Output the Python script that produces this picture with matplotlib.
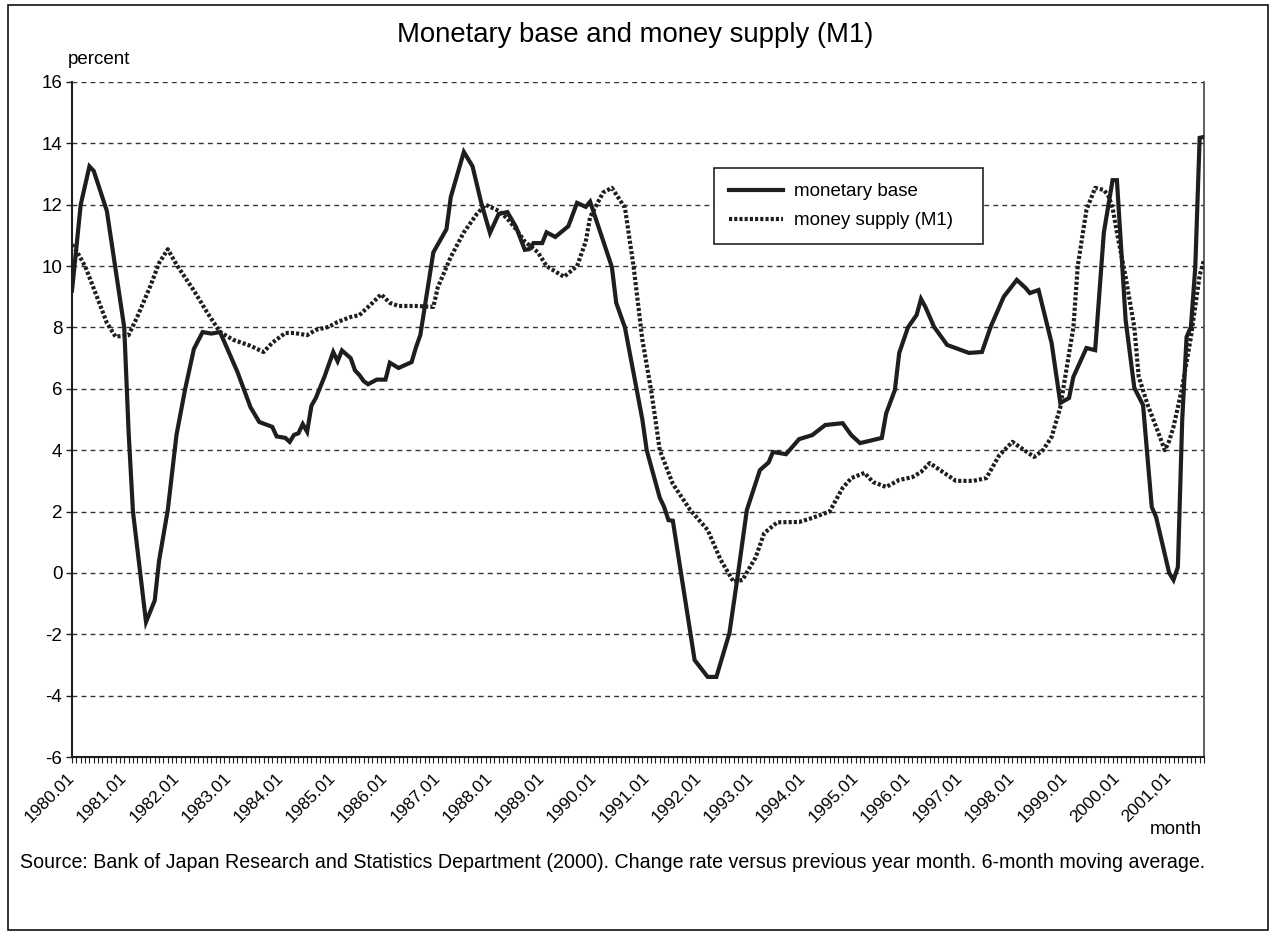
import matplotlib
matplotlib.use('Agg')
import matplotlib.pyplot as plt
from matplotlib.patches import Rectangle
import numpy as np

plt.rcParams['font.family'] = ['Liberation Sans', 'DejaVu Sans']

# months counted from 1980.01 (0)
base_month = [0, 2, 4, 5, 8, 12, 13, 14, 17, 19, 20, 22, 24, 26, 28, 30, 32, 34,
              38, 41, 43, 46, 47, 49, 50, 51, 52, 53, 54, 55, 56, 58, 60, 61, 62,
              64, 65, 66, 67, 68, 70, 72, 73, 75, 78, 79, 80, 83, 86, 87, 90, 92,
              94, 96, 98, 100, 102, 104, 105, 106, 108, 109, 111, 114, 116, 118,
              119, 124, 125, 127, 131, 132, 135, 136, 137, 138, 143, 146, 148,
              151, 153, 155, 158, 160, 161, 164, 167, 170, 173, 177, 179, 181,
              186, 187, 189, 190, 192, 194, 195, 196, 198, 201, 206, 209, 211,
              214, 217, 219, 220, 222, 225, 227, 229, 230, 233, 235, 237, 239,
              240, 242, 244, 246, 248, 249, 252, 253, 254, 255, 256, 257, 258,
              259, 260]
base_value = [9.2, 12.0, 13.25, 13.1, 11.8, 8.0, 4.6, 2.0, -1.6, -0.9, 0.4, 2.05,
              4.5, 6.0, 7.3, 7.85, 7.8, 7.85, 6.55, 5.4, 4.92, 4.76, 4.45, 4.4,
              4.27, 4.5, 4.55, 4.85, 4.6, 5.45, 5.7, 6.4, 7.2, 6.9, 7.25, 7.0,
              6.6, 6.45, 6.25, 6.15, 6.3, 6.3, 6.85, 6.68, 6.87, 7.35, 7.75,
              10.45, 11.2, 12.25, 13.72, 13.25, 12.06, 11.08, 11.7, 11.76, 11.27,
              10.53, 10.55, 10.75, 10.75, 11.1, 10.95, 11.3, 12.06, 11.93, 12.1,
              9.97, 8.8, 8.0, 5.0, 4.0, 2.45, 2.15, 1.72, 1.7, -2.84, -3.39,
              -3.39, -1.96, 0.0, 2.05, 3.35, 3.6, 3.94, 3.87, 4.36, 4.49, 4.82,
              4.88, 4.49, 4.23, 4.4, 5.2, 5.96, 7.17, 8.0, 8.41, 8.93, 8.67,
              8.02, 7.43, 7.17, 7.2, 8.02, 9.0, 9.55, 9.29, 9.12, 9.22, 7.49,
              5.54, 5.7, 6.39, 7.33, 7.26, 11.1, 12.8, 12.8, 8.24, 6.03, 5.47,
              2.15, 1.82, 0.0, -0.23, 0.19, 5.0, 7.69, 8.02, 9.97, 14.18, 14.21]

m1_month = [0, 1, 3, 6, 8, 10, 13, 15, 18, 20, 22, 24, 28, 31, 34, 37, 41, 44, 46,
            49, 51, 54, 56, 59, 61, 64, 66, 69, 71, 73, 75, 79, 83, 84, 87, 90,
            93, 95, 98, 100, 102, 104, 107, 109, 113, 116, 118, 119, 122, 124,
            127, 129, 131, 133, 134, 135, 138, 142, 146, 149, 152, 154, 157, 159,
            162, 167, 170, 174, 177, 179, 182, 184, 187, 190, 193, 195, 197, 200,
            203, 207, 210, 213, 216, 218, 221, 223, 225, 227, 228, 230, 231, 233,
            235, 237, 238, 239, 240, 242, 244, 245, 247, 249, 251, 252, 253, 254,
            255, 257, 258, 259, 260]
m1_value = [10.7, 10.5, 10.0, 8.9, 8.15, 7.7, 7.75, 8.35, 9.35, 10.1, 10.55, 10.05,
            9.2, 8.5, 7.85, 7.6, 7.4, 7.2, 7.5, 7.82, 7.82, 7.75, 7.92, 8.02,
            8.18, 8.34, 8.4, 8.8, 9.08, 8.8, 8.7, 8.7, 8.67, 9.3, 10.3, 11.1,
            11.7, 12.0, 11.8, 11.55, 11.2, 10.8, 10.45, 10.0, 9.65, 10.0, 10.8,
            11.6, 12.4, 12.55, 11.9, 9.97, 7.6, 5.96, 5.0, 4.0, 2.9, 2.05, 1.4,
            0.42, -0.3, -0.23, 0.5, 1.3, 1.65, 1.66, 1.79, 2.0, 2.77, 3.09, 3.26,
            2.96, 2.8, 3.03, 3.12, 3.29, 3.58, 3.29, 3.0, 3.0, 3.09, 3.84, 4.27,
            4.07, 3.78, 4.0, 4.43, 5.4, 6.29, 8.0, 10.0, 11.83, 12.55, 12.48,
            12.3, 11.9, 11.1, 9.65, 8.0, 6.4, 5.5, 4.76, 4.0, 4.3, 4.76, 5.4,
            6.06, 7.69, 8.7, 9.7, 10.2]

year_labels = ['1980.01', '1981.01', '1982.01', '1983.01', '1984.01', '1985.01',
               '1986.01', '1987.01', '1988.01', '1989.01', '1990.01', '1991.01',
               '1992.01', '1993.01', '1994.01', '1995.01', '1996.01', '1997.01',
               '1998.01', '1999.01', '2000.01', '2001,01']
n_months = 261

W, H = 1271, 936
fig = plt.figure(figsize=(W / 100, H / 100), dpi=100)
ax = fig.add_axes([72 / W, 1 - 757 / H, 1132 / W, 675 / H])

ink = '#1e1e1e'
ax.plot(base_month, base_value, color=ink, lw=3.0, solid_joinstyle='miter',
        label='monetary base', zorder=4)
ax.plot(m1_month, m1_value, color=ink, lw=3.0, linestyle=(0, (0.75, 0.5)),
        dash_capstyle='butt', label='money supply (M1)', zorder=3)

ax.set_xlim(0, n_months - 1)
ax.set_ylim(-6, 16)
ax.set_yticks(np.arange(-6, 17, 2))
ax.set_yticklabels([str(v) for v in range(-6, 17, 2)])
ax.yaxis.grid(True, color='#333333', lw=1.0, linestyle=(0, (3.5, 3)))
ax.set_axisbelow(True)

ax.set_xticks(np.arange(0, len(year_labels) * 12, 12))
ax.set_xticklabels(year_labels, rotation=45, ha='right', va='center',
                   rotation_mode='anchor')
ax.set_xticks(np.arange(0, n_months), minor=True)
ax.tick_params(axis='x', which='both', direction='out', length=4, width=0.8,
               color=ink, labelsize=12.5, pad=9)
ax.tick_params(axis='y', direction='out', length=4, width=1, color=ink,
               labelsize=13.5, pad=3)

for side in ['left', 'bottom']:
    ax.spines[side].set_color(ink)
    ax.spines[side].set_linewidth(1.5)
ax.spines['top'].set_visible(False)
ax.spines['right'].set_color('#444444')
ax.spines['right'].set_linewidth(1.2)

leg = ax.legend(loc='upper left', bbox_to_anchor=(0.567, 0.8726, 0.238, 0.0),
                mode='expand', fontsize=13.5, frameon=True, fancybox=False,
                framealpha=1, edgecolor='#222222', handlelength=2.9,
                handletextpad=0.55, labelspacing=0.65, borderpad=0.8,
                borderaxespad=0)
leg.get_frame().set_linewidth(1.2)

fig.text(635 / W, 1 - 35 / H, 'Monetary base and money supply (M1)',
         ha='center', va='center', fontsize=19.8)
fig.text(68 / W, 1 - 60 / H, 'percent', ha='left', va='center', fontsize=13.5)
fig.text(1202 / W, 1 - 829 / H, 'month', ha='right', va='center', fontsize=13.5)
fig.text(20 / W, 1 - 862 / H,
         'Source: Bank of Japan Research and Statistics Department (2000). '
         'Change rate versus previous year month. 6-month moving average.',
         ha='left', va='center', fontsize=14.15)

fig.add_artist(Rectangle((8 / W, 1 - 930 / H), 1260 / W, 925 / H,
                         transform=fig.transFigure, fill=False,
                         edgecolor='#111111', lw=1.2))

fig.savefig('out.png', dpi=100)
